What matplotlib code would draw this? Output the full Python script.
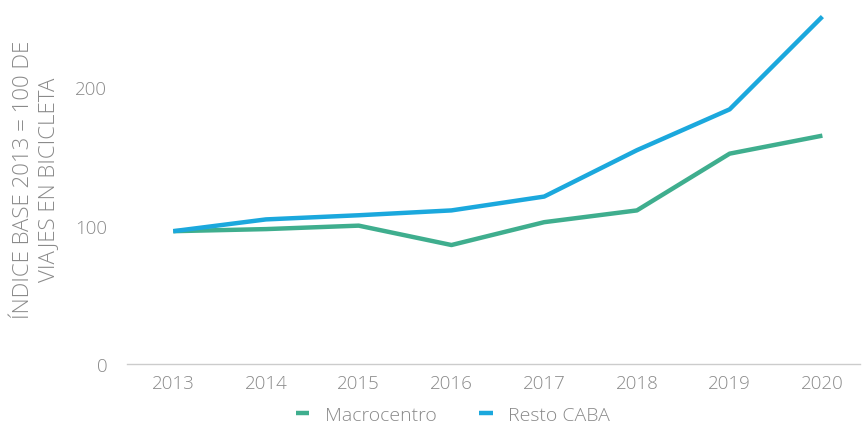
import matplotlib.pyplot as plt

plt.rcParams['font.family'] = ['Open Sans', 'DejaVu Sans']
plt.rcParams['font.weight'] = 'light'

years = [2013, 2014, 2015, 2016, 2017, 2018, 2019, 2020]
macrocentro = [96, 97.5, 100, 86, 102.5, 111, 152, 165]
resto_caba = [96, 104.5, 107.5, 111, 121, 154.5, 184, 251]

gray = '#8a8a8a'

fig = plt.figure(figsize=(8.63, 4.27), dpi=100)
ax = fig.add_axes([0.147, 0.145, 0.85, 0.843])

ax.plot(years, macrocentro, color='#3fae8e', lw=3.2, label='Macrocentro', solid_capstyle='butt')
ax.plot(years, resto_caba, color='#1ba8dd', lw=3.2, label='Resto CABA', solid_capstyle='butt')

ax.set_xlim(2012.5, 2020.41)
ax.set_ylim(0, 260)
ax.set_yticks([0, 100, 200])
ax.set_xticks(years)

for s in ['top', 'right', 'left']:
    ax.spines[s].set_visible(False)
ax.spines['bottom'].set_color('#cccccc')
ax.spines['bottom'].set_linewidth(1)
ax.tick_params(length=0, labelsize=13.5, colors=gray, pad=7)
ax.tick_params(axis='y', pad=14)

# two-line y label, placed by hand
fig.text(36 / 863, 1 - 180 / 427, 'ÍNDICE BASE 2013 = 100 DE\nVIAJES EN BICICLETA',
         rotation=90, ha='center', va='center', multialignment='center',
         fontsize=16, color=gray, linespacing=1.2)

leg = fig.legend(*ax.get_legend_handles_labels(), loc='center',
                 bbox_to_anchor=(453 / 863, 1 - 416 / 427), ncol=2, frameon=False,
                 fontsize=14, handlelength=0.7, handletextpad=0.8, columnspacing=2.2)
for t in leg.get_texts():
    t.set_color(gray)

fig.savefig('out.png', dpi=100)
